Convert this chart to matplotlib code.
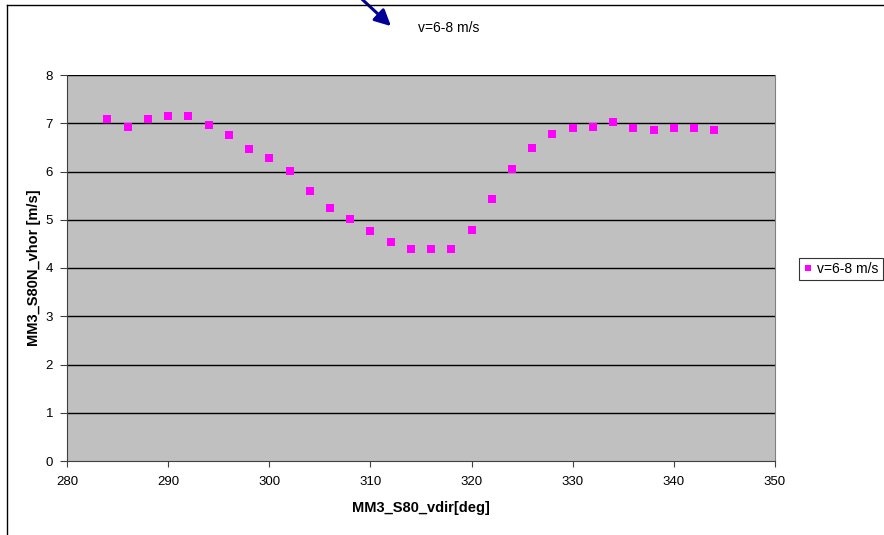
import numpy as np
import matplotlib
matplotlib.use("Agg")
import matplotlib.pyplot as plt
from matplotlib.lines import Line2D
from matplotlib.patches import FancyArrowPatch

plt.rcParams['font.family'] = ['Liberation Sans', 'DejaVu Sans']

# wind direction [deg] and mean horizontal speed [m/s]
vdir = [284, 286, 288, 290, 292, 294, 296, 298, 300, 302, 304, 306, 308, 310, 312, 314,
        316, 318, 320, 322, 324, 326, 328, 330, 332, 334, 336, 338, 340, 342, 344]
vhor = [7.08, 6.93, 7.08, 7.16, 7.14, 6.96, 6.75, 6.46, 6.29, 6.01, 5.60, 5.25, 5.01, 4.77, 4.53, 4.40,
        4.40, 4.40, 4.78, 5.43, 6.05, 6.48, 6.77, 6.90, 6.93, 7.02, 6.90, 6.87, 6.91, 6.90, 6.87]
series_name = 'v=6-8 m/s'
x_ticks = [280, 290, 300, 310, 320, 330, 340, 350]
y_ticks = [0, 1, 2, 3, 4, 5, 6, 7, 8]

fig = plt.figure(figsize=(8.84, 5.35), dpi=100)
ax = fig.add_axes([67 / 884, 1 - 461 / 535, 708 / 884, 386 / 535])
ax.set_facecolor('#c0c0c0')

ax.plot(vdir, vhor, linestyle='none', marker='s', markersize=5.4,
        color='#ff00ff', markeredgewidth=0, zorder=3)

ax.set_xlim(280, 350)
ax.set_ylim(0, 8)
ax.set_xticks(x_ticks)
ax.set_yticks(y_ticks)
for y in y_ticks[1:]:
    ax.axhline(y, color='#000000', linewidth=1.0, zorder=1)

ax.spines['top'].set_visible(False)
ax.spines['right'].set_color('#808080')
ax.spines['left'].set_color('#404040')
ax.spines['bottom'].set_color('#404040')
ax.tick_params(axis='x', direction='out', length=4, color='#404040', labelsize=9.5, pad=7)
ax.tick_params(axis='y', direction='out', length=5, color='#404040', labelsize=9.5, pad=5)

ax.set_xlabel('MM3_S80_vdir[deg]', fontsize=10.5, fontweight='bold', labelpad=9)
ax.set_ylabel('MM3_S80N_vhor [m/s]', fontsize=10.5, fontweight='bold', labelpad=3)

fig.text(449 / 884, 1 - 28 / 535, series_name, fontsize=10, ha='center', va='center')

# arrow coming from outside the frame
arr = FancyArrowPatch((360 / 884, 1.005), (393 / 884, 1 - 28 / 535),
                      transform=fig.transFigure, arrowstyle='-|>', mutation_scale=24,
                      color='#000099', linewidth=2.2)
fig.patches.append(arr)

# outer chart frame
fig.add_artist(Line2D([7 / 884, 7 / 884], [0, 1 - 5 / 535], transform=fig.transFigure,
                      color='#000000', linewidth=1))
fig.add_artist(Line2D([7 / 884, 1], [1 - 5 / 535, 1 - 5 / 535], transform=fig.transFigure,
                      color='#000000', linewidth=1))

handle = Line2D([], [], linestyle='none', marker='s', markersize=5, color='#ff00ff',
                markeredgewidth=0)
leg = fig.legend([handle], [series_name], loc='center left',
                 bbox_to_anchor=(799 / 884, 1 - 269 / 535), fontsize=10, frameon=True,
                 fancybox=False, edgecolor='#000000', handlelength=0.7, handletextpad=0.3,
                 borderpad=0.3, borderaxespad=0)
leg.get_frame().set_linewidth(0.8)

fig.savefig('out.png', dpi=100)
